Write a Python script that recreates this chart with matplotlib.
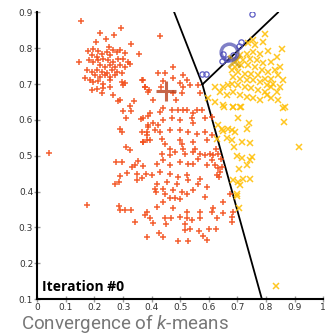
import numpy as np
import matplotlib
matplotlib.use("Agg")
import matplotlib.pyplot as plt

plt.rcParams['mathtext.fontset'] = 'custom'
plt.rcParams['mathtext.it'] = 'Roboto:italic'
plt.rcParams['mathtext.rm'] = 'Roboto'

# --- datos ---
red_x = [.152, .292, .220, .269, .204, .239, .329, .357, .146, .251, .178, .196, .213, .190, .208,
         .225, .243, .254, .266, .278, .289, .307, .182, .196, .213, .231, .248, .266, .283, .301,
         .318, .219, .237, .254, .272, .289, .307, .324, .173, .190, .208, .225, .243, .260, .278,
         .295, .202, .219, .237, .254, .272, .167, .184, .196, .213, .231, .254, .295, .307, .190,
         .208, .231, .254, .301, .365, .377, .388, .225, .266, .289,
         .283, .338, .324, .298, .328, .310, .363, .388, .289, .295, .388, .385, .385, .368, .310,
         .324, .275, .295, .353, .342, .330, .371, .380, .347, .313, .289, .365, .287, .272, .347,
         .369, .377, .392, .423, .447, .476, .511, .522, .476, .499, .534, .511, .563, .569, .441,
         .431, .476, .485, .507, .406, .394, .429, .441, .470, .493, .511, .522, .546, .557, .575,
         .371, .388, .406, .423, .439, .470, .499, .540, .546, .586, .610, .365, .382, .412, .429,
         .464, .499, .528, .557, .586, .610, .371, .394, .435, .447, .499, .505, .546, .592, .464,
         .511, .551, .428, .041,
         .435, .464, .481, .517, .546, .569, .604, .625, .632, .644,
         .586, .563, .545, .592, .615, .610, .621, .633, .639, .645, .627, .636, .569, .592, .563,
         .545, .586, .651, .674,
         .417, .441, .464, .499, .528, .400, .429, .464, .493, .522, .417, .452, .487, .528, .411,
         .415, .441, .446, .476, .505, .464, .481, .499, .522, .441, .175, .287, .289, .307, .327,
         .382, .417, .476, .522, .569, .615, .611, .650, .685, .377, .394, .446, .469, .499, .522,
         .540, .569, .627, .680, .682, .343, .406, .450, .517, .427, .441, .517, .534, .566, .601,
         .625, .382, .493, .526, .580, .592]
red_y = [.877, .856, .843, .837, .818, .825, .811, .783, .762, .804, .793, .797, .793, .781, .776,
         .785, .789, .781, .795, .789, .795, .787, .767, .762, .767, .769, .767, .762, .769, .771,
         .762, .753, .748, .753, .748, .753, .748, .757, .739, .734, .739, .734, .731, .739, .734,
         .730, .725, .720, .725, .720, .725, .716, .711, .706, .709, .700, .711, .706, .702, .683,
         .685, .688, .692, .697, .711, .692, .678, .674, .669, .655,
         .652, .652, .639, .624, .624, .606, .602, .611, .576, .565, .580, .557, .543, .539, .525,
         .515, .483, .483, .484, .475, .469, .471, .450, .450, .452, .443, .438, .427, .422, .432,
         .711, .692, .683, .731, .731, .748, .725, .711, .716, .702, .697, .692, .697, .674, .709,
         .692, .674, .655, .674, .655, .618, .622, .632, .627, .627, .627, .629, .618, .629, .627,
         .604, .585, .590, .585, .599, .604, .599, .604, .590, .604, .608, .567, .567, .571, .567,
         .571, .571, .567, .562, .567, .557, .539, .543, .548, .534, .543, .534, .539, .543, .520,
         .520, .520, .834, .508,
         .506, .501, .511, .506, .511, .506, .506, .520, .506, .492,
         .501, .492, .478, .475, .501, .487, .474, .465, .455, .469, .445, .441, .436, .413, .422,
         .404, .385, .371, .392,
         .476, .487, .473, .482, .476, .445, .455, .450, .441, .445, .422, .427, .422, .431, .408,
         .399, .408, .394, .403, .399, .381, .381, .378, .394, .372, .363, .361, .349, .349, .349,
         .343, .357, .354, .343, .343, .354, .342, .340, .343, .334, .325, .327, .325, .329, .325,
         .320, .325, .325, .329, .315, .315, .311, .309, .309, .284, .273, .294, .296, .291, .296,
         .296, .273, .262, .262, .275, .264]

yel_x = [.796, .857, .788, .761, .738, .808, .779, .755, .732, .709, .697, .720, .744, .767, .790,
         .819, .837, .849, .831, .808, .785, .761, .738, .714, .691, .680, .703, .726, .749, .773,
         .796, .819, .843, .860, .849, .825, .802, .779, .755, .732, .709, .685, .680, .703, .726,
         .749, .773, .796, .819, .837, .650, .668, .621, .639, .662, .685, .709, .732, .755, .779,
         .802, .598, .621, .650, .685, .714, .866, .819, .843, .753,
         .653, .683, .709, .860, .701, .741, .734, .633, .645, .668, .680, .691, .650, .662, .680,
         .717, .744, .689, .916, .864, .697, .715, .750, .744, .732, .706, .744, .721, .703, .709,
         .684, .697, .699, .706, .835, .627]
yel_y = [.839, .799, .818, .809, .815, .793, .785, .789, .785, .780, .766, .768, .771, .766, .758,
         .762, .776, .748, .739, .734, .739, .748, .753, .753, .748, .739, .734, .729, .729, .725,
         .715, .715, .725, .711, .692, .701, .697, .706, .711, .711, .715, .720, .701, .697, .692,
         .688, .683, .678, .692, .678, .692, .697, .692, .678, .669, .678, .669, .664, .660, .655,
         .669, .660, .650, .641, .636, .636, .636, .660, .655, .823,
         .636, .636, .636, .634, .606, .590, .576, .585, .576, .574, .571, .567, .569, .549, .544,
         .538, .535, .524, .524, .593, .500, .495, .497, .488, .474, .462, .436, .436, .428, .417,
         .431, .394, .387, .354, .137, .548]

blue_x = [.751, .712, .704, .651, .646, .685, .575, .590, .665]
blue_y = [.897, .818, .806, .785, .764, .782, .727, .727, .771]

# centroides (iteracion 0): rojo, azul, amarillo
cent_x = [.449, .6705, .6895]
cent_y = [.681, .7895, .7645]

# --- fronteras de Voronoi entre los tres centroides ---
P = np.column_stack([cent_x, cent_y])
(ax_, ay_), (bx_, by_), (cx_, cy_) = P
d = 2 * (ax_ * (by_ - cy_) + bx_ * (cy_ - ay_) + cx_ * (ay_ - by_))
ux = ((ax_**2 + ay_**2) * (by_ - cy_) + (bx_**2 + by_**2) * (cy_ - ay_) + (cx_**2 + cy_**2) * (ay_ - by_)) / d
uy = ((ax_**2 + ay_**2) * (cx_ - bx_) + (bx_**2 + by_**2) * (ax_ - cx_) + (cx_**2 + cy_**2) * (bx_ - ax_)) / d
V = np.array([ux, uy])
xlim, ylim = (0, 1), (0.1, 0.9)

segs = []
for i, j, k in [(0, 1, 2), (0, 2, 1), (1, 2, 0)]:
    mid = (P[i] + P[j]) / 2
    dv = np.array([-(P[j][1] - P[i][1]), P[j][0] - P[i][0]])
    if np.dot(dv, P[k] - mid) > 0:
        dv = -dv
    ts = []
    for c, lims in enumerate([xlim, ylim]):
        if dv[c] != 0:
            for b in lims:
                t = (b - V[c]) / dv[c]
                if t > 0:
                    ts.append(t)
    segs.append((V, V + min(ts) * dv))

# --- figura ---
fig = plt.figure(figsize=(3.34, 3.36), dpi=100)
ax = fig.add_axes([0.1117, 0.110, 0.856, 0.853])

ax.plot(red_x, red_y, '+', color='#f24e1a', ms=4.6, mew=1.1, alpha=0.9, zorder=3)
ax.plot(yel_x, yel_y, 'x', color='#ffc10a', ms=3.8, mew=1.1, alpha=0.9, zorder=3)
ax.plot(blue_x, blue_y, 'o', mfc='none', mec='#5c5cc4', ms=3.8, mew=0.9, zorder=4)

ax.plot(cent_x[0], cent_y[0], '+', color='#b8401c', ms=14, mew=2.2, alpha=0.8, zorder=5)
ax.plot(cent_x[2], cent_y[2], 'x', color='#c89600', ms=8, mew=2.0, alpha=0.7, zorder=5)
ax.plot(cent_x[1], cent_y[1], 'o', mfc='none', mec='#4a4ab0', ms=12, mew=2.5, alpha=0.7, zorder=6)

for a, b in segs:
    ax.plot([a[0], b[0]], [a[1], b[1]], color='black', lw=1.3, zorder=2)

ax.set_xlim(*xlim)
ax.set_ylim(*ylim)
xt = [0, .1, .2, .3, .4, .5, .6, .7, .8, .9, 1]
yt = [.1, .2, .3, .4, .5, .6, .7, .8, .9]
ax.set_xticks(xt)
ax.set_xticklabels(['0' if v == 0 else ('1' if v == 1 else f'{v:.1f}') for v in xt])
ax.set_yticks(yt)
ax.set_yticklabels([f'{v:.1f}' for v in yt])

ax.spines['top'].set_visible(False)
ax.spines['right'].set_visible(False)
ax.spines['left'].set_linewidth(1.5)
ax.spines['bottom'].set_linewidth(1.5)
ax.tick_params(direction='inout', length=4, width=1, color='#999999',
               labelsize=6.5, labelcolor='#333333', pad=1)

ax.text(0.015, 0.122, 'Iteration #0', fontsize=10, fontweight='bold',
        family='Open Sans', va='baseline', zorder=7)

fig.text(0.063, 0.020, 'Convergence of $\\mathit{k}$-means', fontsize=13.5,
         family='Roboto', color='#777777', va='baseline')

fig.savefig('out.png', dpi=100)
